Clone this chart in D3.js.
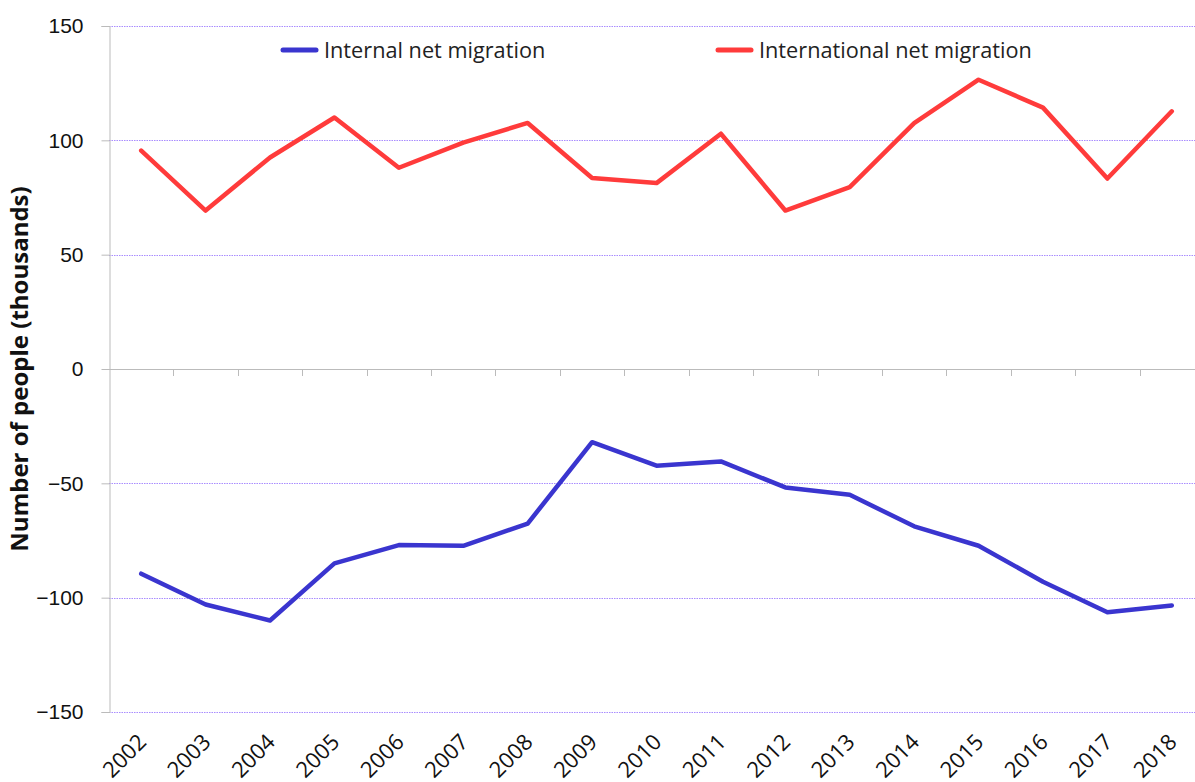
<!DOCTYPE html>
<html>
<head>
<meta charset="utf-8">
<script src="https://cdn.jsdelivr.net/npm/d3@7"></script>
<style>
  body { margin: 0; background: #fff; }
  svg { display: block; font-family: "Open Sans", "Noto Sans", sans-serif; }
</style>
</head>
<body>
<div id="chart"><svg></svg></div>
<script>
// Chart values
const years = ["2002", "2003", "2004", "2005", "2006", "2007", "2008", "2009", "2010",
    "2011", "2012", "2013", "2014", "2015", "2016", "2017", "2018"];
const internalNet = [-89.5, -103, -110, -85, -77, -77.3, -67.6, -32, -42.3,
    -40.4, -51.8, -55, -68.8, -77.3, -93, -106.4, -103.4];
const internationalNet = [95.5, 69.3, 92.5, 110, 88, 99, 107.6, 83.5, 81.3,
    102.9, 69.3, 79.5, 107.5, 126.5, 114.3, 83.3, 112.7];
const yTicks = [-150, -100, -50, 0, 50, 100, 150];

const W = 1195, H = 782;
const margin = { top: 26, right: -9, bottom: 70, left: 109 };

const svg = d3.select("#chart svg")
    .attr("width", W)
    .attr("height", H);

const x = d3.scaleBand().domain(years).range([margin.left, W - margin.right]);
const y = d3.scaleLinear().domain([-150, 150]).range([H - margin.bottom, margin.top]);

// Gridlines (dotted purple)
svg.append("g")
    .selectAll("line")
    .data(yTicks.filter(d => d !== 0))
    .enter()
    .append("line")
    .attr("x1", margin.left)
    .attr("x2", W)
    .attr("y1", d => Math.round(y(d)) + 0.5)
    .attr("y2", d => Math.round(y(d)) + 0.5)
    .attr("stroke", "#a98cff")
    .attr("stroke-width", 1)
    .attr("stroke-dasharray", "1.5,1");

// Y axis
const yAxis = svg.append("g")
    .attr("transform", `translate(${margin.left + 0.5},0)`)
    .call(d3.axisLeft(y).tickValues(yTicks).tickSize(8).tickPadding(18));
yAxis.select(".domain").attr("stroke", "#bbb");
yAxis.selectAll(".tick line").attr("stroke", "#bbb");
yAxis.selectAll("text")
    .style("font-size", "21px")
    .attr("fill", "#111");

// Zero line with tick marks between years
svg.append("line")
    .attr("x1", margin.left)
    .attr("x2", W)
    .attr("y1", Math.round(y(0)) + 0.5)
    .attr("y2", Math.round(y(0)) + 0.5)
    .attr("stroke", "#bbb");
svg.append("g")
    .selectAll("line")
    .data(years.slice(1))
    .enter()
    .append("line")
    .attr("x1", d => Math.round(x(d)) + 0.5)
    .attr("x2", d => Math.round(x(d)) + 0.5)
    .attr("y1", y(0))
    .attr("y2", y(0) + 7)
    .attr("stroke", "#bbb");

// X labels, rotated
svg.append("g")
    .selectAll("text")
    .data(years)
    .enter()
    .append("text")
    .attr("transform", d => `translate(${x(d) + x.bandwidth() / 2 + 1},${H - margin.bottom + 26}) rotate(-45)`)
    .attr("text-anchor", "end")
    .attr("dy", "0.35em")
    .style("font-size", "22px")
    .attr("fill", "#111")
    .text(d => d);

// Y axis title
svg.append("text")
    .attr("transform", `translate(28,${y(0)}) rotate(-90)`)
    .attr("text-anchor", "middle")
    .style("font-size", "24px")
    .style("font-weight", "bold")
    .attr("fill", "#111")
    .text("Number of people (thousands)");

// Lines
const line = d3.line()
    .x((d, i) => x(years[i]) + x.bandwidth() / 2)
    .y(d => y(d));

const series = [
    { name: "Internal net migration", values: internalNet, color: "#3a35cf", lx: 283 },
    { name: "International net migration", values: internationalNet, color: "#ff3b3b", lx: 718 },
];

series.forEach(s => {
    svg.append("path")
        .datum(s.values)
        .attr("fill", "none")
        .attr("stroke", s.color)
        .attr("stroke-width", 4.5)
        .attr("stroke-linejoin", "round")
        .attr("stroke-linecap", "round")
        .attr("d", line);

    // Legend
    svg.append("line")
        .attr("x1", s.lx)
        .attr("x2", s.lx + 33)
        .attr("y1", 50)
        .attr("y2", 50)
        .attr("stroke", s.color)
        .attr("stroke-width", 5)
        .attr("stroke-linecap", "round");
    svg.append("text")
        .attr("x", s.lx + 41)
        .attr("y", 50)
        .attr("dy", "0.35em")
        .style("font-size", "21.7px")
        .attr("fill", "#222")
        .text(s.name);
});
</script>
</body>
</html>
